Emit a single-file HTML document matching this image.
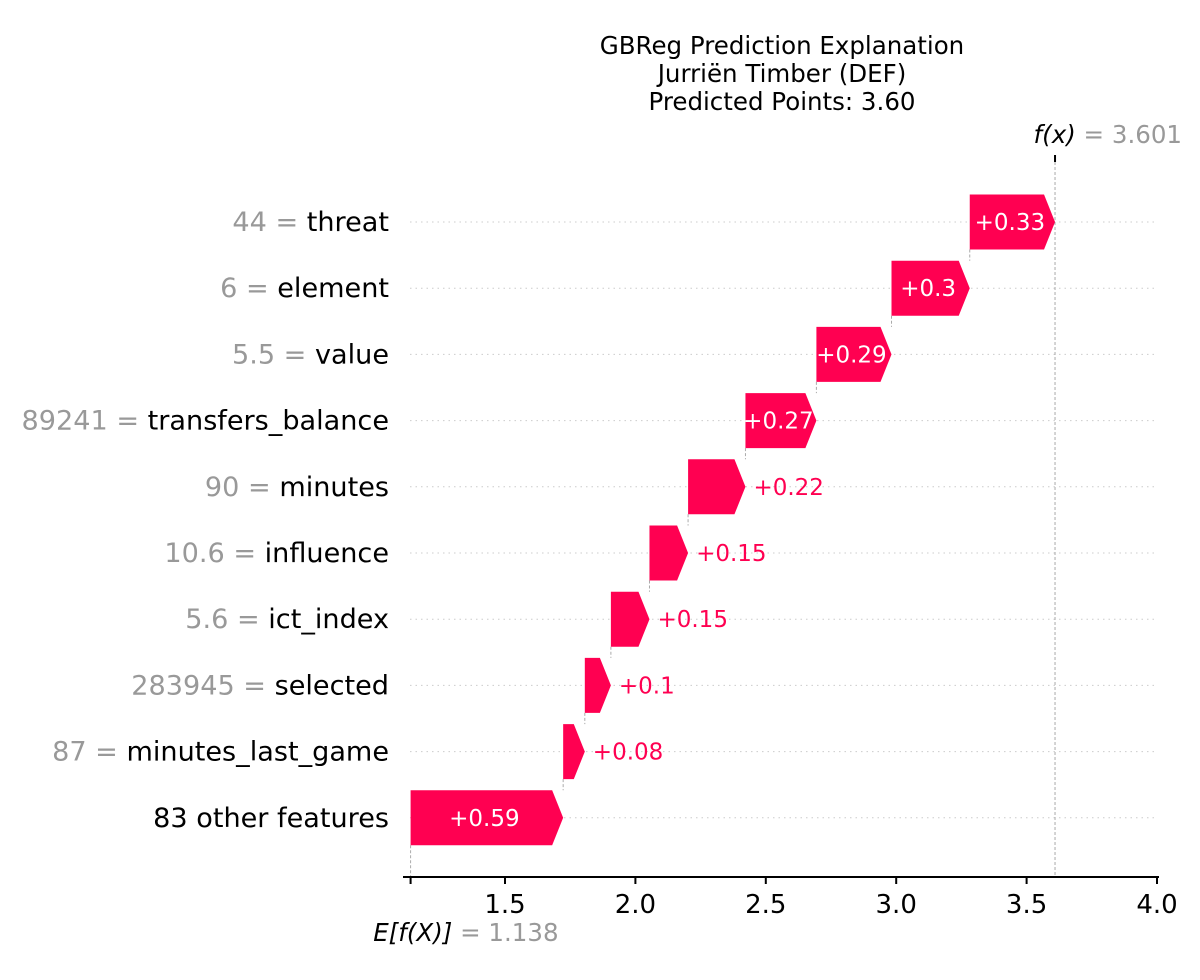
<!DOCTYPE html>
<html><head><meta charset="utf-8"><style>
body{margin:0;background:#fff;}
svg{font-family:"DejaVu Sans","Liberation Sans",sans-serif;}
</style></head><body>
<svg id="chart" width="1200" height="975" xmlns="http://www.w3.org/2000/svg">
<g font-size="24.5" text-anchor="middle" fill="#000">
<text x="782" y="54">GBReg Prediction Explanation</text>
<text x="782" y="82">Jurriën Timber (DEF)</text>
<text x="782" y="110">Predicted Points: 3.60</text>
</g>
<g id="grid"></g><g id="conn"></g><g id="bars"></g><g id="labels"></g><g id="axis"></g>
</svg>
<script>
const featureNames=["threat","element","value","transfers_balance","minutes","influence","ict_index","selected","minutes_last_game","83 other features"];
const featureValues=["44","6","5.5","89241","90","10.6","5.6","283945","87",""];
const contributions=[0.327,0.300,0.288,0.272,0.220,0.148,0.148,0.100,0.083,0.585];
const contribLabels=["+0.33","+0.3","+0.29","+0.27","+0.22","+0.15","+0.15","+0.1","+0.08","+0.59"];
const baseValue=1.138;
const tickValues=[1.5,2.0,2.5,3.0,3.5,4.0];
const tickLabels=["1.5","2.0","2.5","3.0","3.5","4.0"];
const NS="http://www.w3.org/2000/svg";
function x(v){return 505+(v-1.5)*260.8;}
function rowY(i){return 222+i*66.2;}
function mk(tag,attrs,parent){const e=document.createElementNS(NS,tag);for(const k in attrs)e.setAttribute(k,attrs[k]);document.getElementById(parent).appendChild(e);return e;}
const n=featureNames.length;
let starts=[],ends=[];let cum=baseValue;
for(let i=n-1;i>=0;i--){starts[i]=cum;cum+=contributions[i];ends[i]=cum;}
const fx=cum;
const H=55;
for(let i=0;i<n;i++){
  const y=rowY(i);
  const g=mk('line',{x1:410,x2:1157,y1:y,y2:y,stroke:'#ccc','stroke-width':1,'stroke-dasharray':'1.5,4'},'grid');
  
  
  const x0=x(starts[i]),x1=x(ends[i]);
  const w=x1-x0;const tip=Math.min(11,w);
  const p=mk('polygon',{points:`${x0},${y-H/2} ${x1-tip},${y-H/2} ${x1},${y} ${x1-tip},${y+H/2} ${x0},${y+H/2}`,fill:'#ff0051'},'bars');
  
  
  let t;
  if(w>70){t=mk('text',{x:(x0+x1-tip)/2+3,y:y+8,'text-anchor':'middle','font-size':23,fill:'#fff'},'labels');}
  else{t=mk('text',{x:x1+8,y:y+8,'text-anchor':'start','font-size':23,fill:'#ff0051'},'labels');}
  t.textContent=contribLabels[i];
  
  
  const lab=mk('text',{x:389,y:y+9,'text-anchor':'end','font-size':27.1},'labels');
  
  
  if(featureValues[i]!==""){
    const s1=document.createElementNS(NS,'tspan');s1.setAttribute('fill','#999');s1.textContent=featureValues[i]+' = ';lab.appendChild(s1);
  }
  const s2=document.createElementNS(NS,'tspan');s2.setAttribute('fill','#000');s2.textContent=featureNames[i];lab.appendChild(s2);
  if(i<n-1){
    const c=mk('line',{x1:x0,x2:x0,y1:y+H/2,y2:rowY(i+1)-H/2,stroke:'#aaa','stroke-width':1,'stroke-dasharray':'3,2'},'conn');
    
    
  }
}
const eL=mk('line',{x1:x(baseValue),x2:x(baseValue),y1:rowY(n-1)+H/2,y2:877,stroke:'#aaa','stroke-width':1,'stroke-dasharray':'3,2'},'conn');

const fL=mk('line',{x1:x(fx),x2:x(fx),y1:162,y2:877,stroke:'#aaa','stroke-width':1,'stroke-dasharray':'3,2'},'conn');

const ft=mk('line',{x1:x(fx),x2:x(fx),y1:155,y2:162,stroke:'#000','stroke-width':2},'axis');

const ax=mk('line',{x1:403,x2:1159,y1:877,y2:877,stroke:'#000','stroke-width':2},'axis');

const et=mk('line',{x1:x(baseValue),x2:x(baseValue),y1:877,y2:884,stroke:'#000','stroke-width':2},'axis');

tickValues.forEach((v,k)=>{
  const tl=mk('line',{x1:x(v),x2:x(v),y1:877,y2:884,stroke:'#000','stroke-width':2},'axis');
  
  const tt=mk('text',{x:x(v),y:913,'text-anchor':'middle','font-size':26,fill:'#000'},'axis');
  tt.textContent=tickLabels[k];
  
});
const eTxt=mk('text',{x:x(baseValue)+148,y:941,'text-anchor':'end','font-size':24.5},'axis');

eTxt.innerHTML='<tspan fill="#000" font-style="italic">E[f(X)]</tspan><tspan fill="#999"> = '+baseValue.toFixed(3)+'</tspan>';
const fTxt=mk('text',{x:x(fx)+127,y:143,'text-anchor':'end','font-size':24.5},'axis');

fTxt.innerHTML='<tspan fill="#000" font-style="italic">f(x)</tspan><tspan fill="#999"> = 3.601</tspan>';
</script>
</body></html>
